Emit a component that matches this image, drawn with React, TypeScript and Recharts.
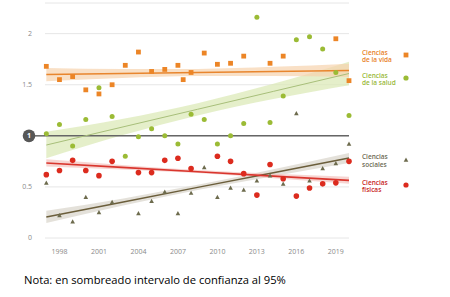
import React from 'react';
import { ComposedChart, Line, Area, XAxis, YAxis, CartesianGrid, ReferenceLine } from 'recharts';

const years = [1997, 1998, 1999, 2000, 2001, 2002, 2003, 2004, 2005, 2006, 2007, 2008, 2009, 2010, 2011, 2012, 2013, 2014, 2015, 2016, 2017, 2018, 2019, 2020];
const vida = [1.68, 1.55, 1.58, 1.45, 1.41, 1.5, 1.69, 1.82, 1.63, 1.65, 1.69, 1.62, 1.81, 1.7, 1.71, 1.78, null, 1.71, 1.78, null, null, null, 1.95, 1.54];
const vidaExtraYear = 2007.4;
const vidaExtraValue = 1.55;
const salud = [1.02, 1.11, 0.9, 1.16, 1.47, 1.19, 0.8, 0.99, 1.07, 1.0, 0.92, 1.21, 1.16, 0.92, 1.0, 1.12, 2.16, 1.13, 1.39, 1.94, 1.97, 1.85, 1.62, 1.2];
const sociales = [0.54, 0.22, 0.16, 0.4, 0.25, 0.35, null, 0.24, 0.36, 0.45, 0.24, 0.44, 0.69, 0.4, 0.49, 0.47, 0.56, 0.61, 0.53, 1.22, 0.56, 0.68, 0.73, 0.92];
const fisicas = [0.62, 0.66, 0.76, 0.66, 0.61, 0.75, null, 0.64, 0.64, 0.76, 0.78, 0.68, null, 0.8, 0.75, 0.63, 0.42, 0.72, 0.58, 0.41, 0.49, 0.53, 0.54, 0.75];

const trendYears = [1997, 2002.75, 2008.5, 2014.25, 2020];
const vidaTrend = [1.6, 1.61, 1.62, 1.63, 1.64];
const vidaLow = [1.535, 1.565, 1.585, 1.585, 1.575];
const vidaHigh = [1.665, 1.655, 1.655, 1.675, 1.705];
const saludTrend = [0.91, 1.085, 1.26, 1.435, 1.61];
const saludLow = [0.78, 1.005, 1.2, 1.36, 1.495];
const saludHigh = [1.04, 1.165, 1.32, 1.51, 1.725];
const fisicasTrend = [0.734, 0.691, 0.649, 0.606, 0.564];
const fisicasLow = [0.7, 0.67, 0.635, 0.585, 0.53];
const fisicasHigh = [0.77, 0.715, 0.665, 0.63, 0.6];
const socialesTrend = [0.206, 0.35, 0.495, 0.639, 0.783];
const socialesLow = [0.146, 0.315, 0.47, 0.604, 0.733];
const socialesHigh = [0.266, 0.385, 0.52, 0.674, 0.833];

const xTicks = [1998, 2001, 2004, 2007, 2010, 2013, 2016, 2019];
const yTicks = [0, 0.5, 1, 1.5, 2];
const noteText = 'Nota: en sombreado intervalo de confianza al 95%';

const C = {
  vida: '#EC8526',
  vidaLine: '#E8862E',
  vidaBand: '#F7D3AE',
  salud: '#9BBB35',
  saludLine: '#A8BF7A',
  saludBand: '#DCE9B8',
  sociales: '#6D6B4D',
  socialesLine: '#6B5E3B',
  socialesBand: '#DDDAD1',
  fisicas: '#DC2B1E',
  fisicasLine: '#D9362E',
  fisicasBand: '#F4C3BF',
};

type Row = { year: number; [k: string]: any };
const rowMap = new Map<number, Row>();
const getRow = (y: number) => {
  if (!rowMap.has(y)) rowMap.set(y, { year: y });
  return rowMap.get(y) as Row;
};
years.forEach((y, i) => {
  const r = getRow(y);
  r.vida = vida[i];
  r.salud = salud[i];
  r.sociales = sociales[i];
  r.fisicas = fisicas[i];
});
getRow(vidaExtraYear).vida = vidaExtraValue;
trendYears.forEach((y, i) => {
  const r = getRow(y);
  r.vidaT = vidaTrend[i];
  r.vidaB = [vidaLow[i], vidaHigh[i]];
  r.saludT = saludTrend[i];
  r.saludB = [saludLow[i], saludHigh[i]];
  r.fisicasT = fisicasTrend[i];
  r.fisicasB = [fisicasLow[i], fisicasHigh[i]];
  r.socialesT = socialesTrend[i];
  r.socialesB = [socialesLow[i], socialesHigh[i]];
});
const data = Array.from(rowMap.values()).sort((a, b) => a.year - b.year);

const ok = (p: any) => Number.isFinite(p.cx) && Number.isFinite(p.cy) && p.value != null;

const squareDot = (p: any) =>
  ok(p) ? <rect key={`sq-${p.index}`} x={p.cx - 2.4} y={p.cy - 2.4} width={4.8} height={4.8} fill={C.vida} /> : <g key={`sq-${p.index}`} />;
const greenDot = (p: any) =>
  ok(p) ? <circle key={`gd-${p.index}`} cx={p.cx} cy={p.cy} r={2.5} fill={C.salud} /> : <g key={`gd-${p.index}`} />;
const redDot = (p: any) =>
  ok(p) ? <circle key={`rd-${p.index}`} cx={p.cx} cy={p.cy} r={2.8} fill={C.fisicas} /> : <g key={`rd-${p.index}`} />;
const triDot = (p: any) =>
  ok(p) ? (
    <path key={`tr-${p.index}`} d={`M${p.cx},${p.cy - 2.4}L${p.cx + 2.3},${p.cy + 1.8}L${p.cx - 2.3},${p.cy + 1.8}Z`} fill={C.sociales} />
  ) : (
    <g key={`tr-${p.index}`} />
  );

const YTick = (props: any) => {
  const { y, payload } = props;
  const v = payload.value;
  if (v === 1) {
    return (
      <g>
        <line x1={34} x2={45} y1={y} y2={y} stroke="#666" strokeWidth={1.5} />
        <circle cx={29} cy={y} r={6.3} fill="#575757" />
        <text x={29} y={y + 2.5} textAnchor="middle" fill="#fff" fontSize={7} fontWeight="bold" fontFamily="Open Sans">1</text>
      </g>
    );
  }
  return (
    <text x={32} y={y + 2.4} textAnchor="end" fill="#8a8a8a" fontSize={7} fontFamily="Open Sans">
      {String(v)}
    </text>
  );
};

const XTick = (props: any) => {
  const { x, y, payload } = props;
  return (
    <text x={x} y={y + 13.8} textAnchor="middle" fill="#8a8a8a" fontSize={7} fontFamily="Open Sans">
      {payload.value}
    </text>
  );
};

const legendItems = [
  { l1: 'Ciencias', l2: 'de la vida', color: '#E8822A', top: 52.3, my: 54.5, shape: 'square', mc: C.vida },
  { l1: 'Ciencias', l2: 'de la salud', color: '#9AB93B', top: 75, my: 77.5, shape: 'circle', mc: C.salud },
  { l1: 'Ciencias', l2: 'sociales', color: '#6E6B55', top: 156.7, my: 160, shape: 'tri', mc: C.sociales },
  { l1: 'Ciencias', l2: 'físicas', color: '#C8251E', top: 182.3, my: 185, shape: 'circle', mc: C.fisicas },
];

export default function App() {
  return (
    <div style={{ position: 'absolute', left: 0, top: 0, width: 450, height: 297, background: '#fff', fontFamily: 'Open Sans' }}>
      <ComposedChart width={450} height={262} data={data} margin={{ top: 3, right: 101, left: 0, bottom: 0 }}>
        <CartesianGrid horizontal vertical={false} stroke="#e6e6e6" strokeWidth={1} />
        <XAxis
          dataKey="year"
          type="number"
          domain={[1996.9, 2020]}
          ticks={xTicks}
          axisLine={false}
          tickLine={false}
          tickSize={0}
          height={24}
          tick={<XTick />}
          interval={0}
        />
        <YAxis
          type="number"
          domain={[0, 2.3]}
          ticks={yTicks}
          axisLine={false}
          tickLine={false}
          tickSize={0}
          width={45}
          tick={<YTick />}
          interval={0}
        />
        <Area dataKey="saludB" type="monotone" stroke="none" fill={C.saludBand} fillOpacity={0.75} connectNulls isAnimationActive={false} />
        <Area dataKey="vidaB" type="monotone" stroke="none" fill={C.vidaBand} fillOpacity={0.7} connectNulls isAnimationActive={false} />
        <Area dataKey="socialesB" type="monotone" stroke="none" fill={C.socialesBand} fillOpacity={0.8} connectNulls isAnimationActive={false} />
        <Area dataKey="fisicasB" type="monotone" stroke="none" fill={C.fisicasBand} fillOpacity={0.7} connectNulls isAnimationActive={false} />
        <ReferenceLine y={1} stroke="#666" strokeWidth={1.5} />
        <Line dataKey="saludT" type="linear" stroke={C.saludLine} strokeWidth={1} dot={false} activeDot={false} connectNulls isAnimationActive={false} />
        <Line dataKey="vidaT" type="linear" stroke={C.vidaLine} strokeWidth={1.6} dot={false} activeDot={false} connectNulls isAnimationActive={false} />
        <Line dataKey="socialesT" type="linear" stroke={C.socialesLine} strokeWidth={1.4} dot={false} activeDot={false} connectNulls isAnimationActive={false} />
        <Line dataKey="fisicasT" type="linear" stroke={C.fisicasLine} strokeWidth={1.6} dot={false} activeDot={false} connectNulls isAnimationActive={false} />
        <Line dataKey="vida" stroke="none" dot={squareDot} activeDot={false} isAnimationActive={false} />
        <Line dataKey="salud" stroke="none" dot={greenDot} activeDot={false} isAnimationActive={false} />
        <Line dataKey="sociales" stroke="none" dot={triDot} activeDot={false} isAnimationActive={false} />
        <Line dataKey="fisicas" stroke="none" dot={redDot} activeDot={false} isAnimationActive={false} />
      </ComposedChart>
      {legendItems.map((it, i) => (
        <React.Fragment key={i}>
          <div
            style={{
              position: 'absolute',
              left: 362,
              top: it.top - 3.5,
              fontSize: 6.5,
              lineHeight: '7.5px',
              color: it.color,
              fontWeight: 600,
              whiteSpace: 'nowrap',
            }}
          >
            {it.l1}
            <br />
            {it.l2}
          </div>
          <svg style={{ position: 'absolute', left: 402, top: it.my - 4 }} width={8} height={8}>
            {it.shape === 'square' && <rect x={1.6} y={1.6} width={4.8} height={4.8} fill={it.mc} />}
            {it.shape === 'circle' && <circle cx={4} cy={4} r={2.6} fill={it.mc} />}
            {it.shape === 'tri' && <path d="M4,1.6L6.3,5.8L1.7,5.8Z" fill={it.mc} />}
          </svg>
        </React.Fragment>
      ))}
      <div style={{ position: 'absolute', left: 24, top: 272, fontSize: 11.2, lineHeight: '16px', color: '#000', whiteSpace: 'nowrap' }}>
        {noteText}
      </div>
    </div>
  );
}
